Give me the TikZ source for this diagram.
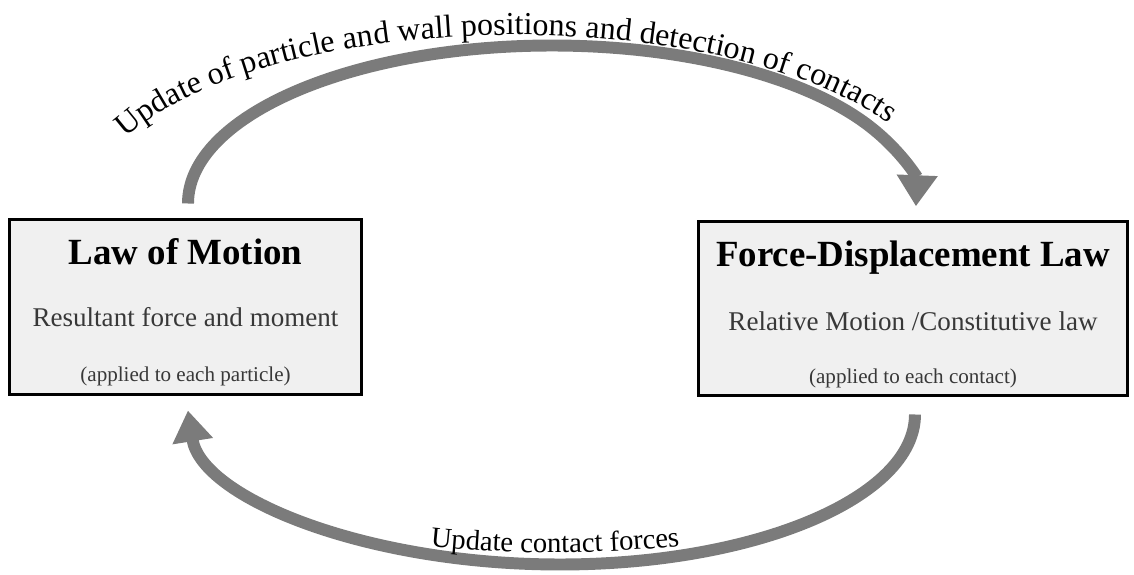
\documentclass[tikz,border=0pt]{standalone}
\usepackage{fontspec}
\setmainfont{Liberation Serif}
\usetikzlibrary{arrows.meta,calc,decorations.text}
\definecolor{loopgray}{HTML}{7B7B7B}
\definecolor{lawfill}{HTML}{F0F0F0}
\definecolor{lawtext}{HTML}{383838}
\newcommand{\toploopfont}{\fontsize{18.2}{20}\selectfont}
\newcommand{\bottomloopfont}{\fontsize{16.3}{18}\selectfont}

\begin{document}
\begin{tikzpicture}[
        lawbox/.style={draw=black, fill=lawfill, line width=1.7pt, inner sep=0pt},
        lawtitle/.style={anchor=base, font=\fontsize{21}{24}\selectfont\bfseries},
        lawsub/.style={anchor=base, text=lawtext, font=\fontsize{15.4}{18}\selectfont},
        lawnote/.style={anchor=base, text=lawtext, font=\fontsize{12}{14}\selectfont},
        flowarrow/.style={draw=loopgray, line width=6.8pt,
          -{Triangle[length=0.62cm, width=0.78cm]}},
      ]
      \useasboundingbox (0,0) rectangle (22.68,11.48);

      % Law of motion (left)
      \node[lawbox, minimum width=7.04cm, minimum height=3.5cm] (motion) at (3.71,5.34) {};
      \node[lawtitle] (motiontitle) at ([yshift=-0.92cm]motion.north) {Law of Motion};
      \node[lawsub] (motionsub) at ([yshift=-2.16cm]motion.north) {Resultant force and moment};
      \node[lawnote] (motionnote) at ([yshift=-3.27cm]motion.north) {(applied to each particle)};

      % Force-displacement law (right)
      \node[lawbox, minimum width=8.58cm, minimum height=3.48cm] (forcedisp) at (18.26,5.31) {};
      \node[lawtitle] (forcetitle) at ([yshift=-0.92cm]forcedisp.north) {Force-Displacement Law};
      \node[lawsub] (forcesub) at ([yshift=-2.2cm]forcedisp.north) {Relative Motion /Constitutive law};
      \node[lawnote] (forcenote) at ([yshift=-3.27cm]forcedisp.north) {(applied to each contact)};

      % Loop ends
      \coordinate (updstart) at ([shift={(0.05,0.29)}]motion.north);
      \coordinate (forcestart) at ([shift={(0.04,-0.35)}]forcedisp.south);
      \coordinate (topc) at (10.32,7.34);
      \coordinate (botc) at (11.10,3.47);

      % Upper loop: motion -> force-displacement
      \draw[flowarrow] (updstart)
        arc[start angle=180, end angle=-1, x radius=7.28, y radius=3.16];
      \path[decorate, decoration={text along path, text align=center,
          text={|\toploopfont|Update of particle and wall positions and detection of contacts}}]
        ($(topc)+(161:8.52 and 3.44)$) arc[start angle=161, end angle=25, x radius=8.52, y radius=3.44];

      % Lower loop: force-displacement -> motion
      \draw[flowarrow] (forcestart)
        arc[start angle=0, end angle=-90, x radius=7.1, y radius=3.0]
        arc[start angle=270, end angle=184, x radius=7.46, y radius=3.31];
      \path[decorate, decoration={text along path, text align=center,
          text={|\bottomloopfont|Update contact forces}}]
        ($(botc)+(235:8.66 and 3.04)$) arc[start angle=235, end angle=305, x radius=8.66, y radius=3.04];
    \end{tikzpicture}
\end{document}
